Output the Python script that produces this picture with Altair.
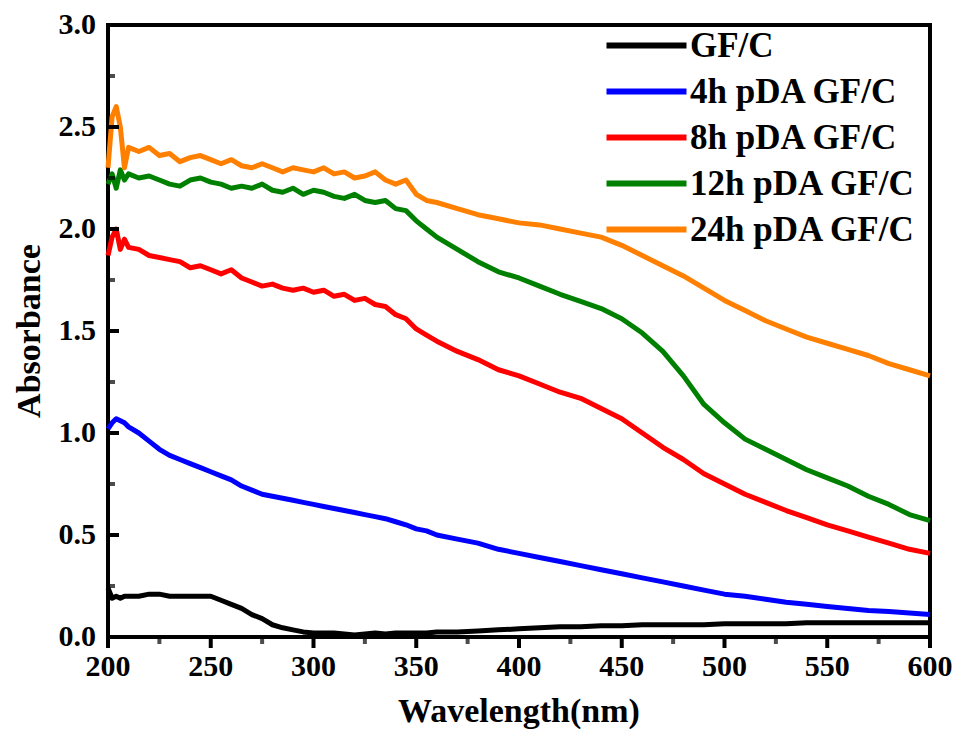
import altair as alt
import pandas as pd

wavelength = [200, 202, 204, 206, 208, 210, 215, 220, 225, 230, 235, 240, 245, 250, 255,
              260, 265, 270, 275, 280, 285, 290, 295, 300, 305, 310, 315, 320, 325, 330,
              335, 340, 345, 350, 355, 360, 370, 380, 390, 400, 410, 420, 430, 440, 450,
              460, 470, 480, 490, 500, 510, 520, 530, 540, 550, 560, 570, 580, 590, 600]

gfc = [0.24, 0.19, 0.20, 0.19, 0.20, 0.20, 0.20, 0.21, 0.21, 0.20, 0.20, 0.20, 0.20, 0.20, 0.18,
       0.16, 0.14, 0.11, 0.09, 0.06, 0.045, 0.035, 0.025, 0.02, 0.02, 0.02, 0.015, 0.01, 0.015, 0.02,
       0.015, 0.02, 0.02, 0.02, 0.02, 0.025, 0.025, 0.03, 0.035, 0.04, 0.045, 0.05, 0.05, 0.055, 0.055,
       0.06, 0.06, 0.06, 0.06, 0.065, 0.065, 0.065, 0.065, 0.07, 0.07, 0.07, 0.07, 0.07, 0.07, 0.07]

pda4 = [1.02, 1.05, 1.07, 1.06, 1.05, 1.03, 1.00, 0.96, 0.92, 0.89, 0.87, 0.85, 0.83, 0.81, 0.79,
        0.77, 0.74, 0.72, 0.70, 0.69, 0.68, 0.67, 0.66, 0.65, 0.64, 0.63, 0.62, 0.61, 0.60, 0.59,
        0.58, 0.565, 0.55, 0.53, 0.52, 0.50, 0.48, 0.46, 0.43, 0.41, 0.39, 0.37, 0.35, 0.33, 0.31,
        0.29, 0.27, 0.25, 0.23, 0.21, 0.20, 0.185, 0.17, 0.16, 0.15, 0.14, 0.13, 0.125, 0.118, 0.11]

pda8 = [1.87, 1.96, 2.00, 1.90, 1.95, 1.91, 1.90, 1.87, 1.86, 1.85, 1.84, 1.81, 1.82, 1.80, 1.78,
        1.80, 1.76, 1.74, 1.72, 1.73, 1.71, 1.70, 1.71, 1.69, 1.70, 1.67, 1.68, 1.65, 1.66, 1.63,
        1.62, 1.58, 1.56, 1.51, 1.48, 1.45, 1.40, 1.36, 1.31, 1.28, 1.24, 1.20, 1.17, 1.12, 1.07,
        1.00, 0.93, 0.87, 0.80, 0.75, 0.70, 0.66, 0.62, 0.585, 0.55, 0.52, 0.49, 0.46, 0.43, 0.41]

pda12 = [2.22, 2.27, 2.20, 2.29, 2.24, 2.27, 2.25, 2.26, 2.24, 2.22, 2.21, 2.24, 2.25, 2.23, 2.22,
         2.20, 2.21, 2.20, 2.22, 2.19, 2.18, 2.20, 2.17, 2.19, 2.18, 2.16, 2.15, 2.17, 2.14, 2.13,
         2.14, 2.10, 2.09, 2.04, 2.00, 1.96, 1.90, 1.84, 1.79, 1.76, 1.72, 1.68, 1.645, 1.61, 1.56,
         1.49, 1.40, 1.28, 1.14, 1.05, 0.97, 0.92, 0.87, 0.82, 0.78, 0.74, 0.69, 0.65, 0.60, 0.57]

pda24 = [2.30, 2.55, 2.60, 2.50, 2.30, 2.40, 2.38, 2.40, 2.36, 2.37, 2.33, 2.35, 2.36, 2.34, 2.32,
         2.34, 2.31, 2.30, 2.32, 2.30, 2.28, 2.30, 2.29, 2.28, 2.30, 2.27, 2.28, 2.25, 2.26, 2.28,
         2.24, 2.22, 2.24, 2.17, 2.14, 2.13, 2.10, 2.07, 2.05, 2.03, 2.02, 2.00, 1.98, 1.96, 1.92,
         1.87, 1.82, 1.77, 1.71, 1.65, 1.60, 1.55, 1.51, 1.47, 1.44, 1.41, 1.38, 1.34, 1.31, 1.28]

series_names = ["GF/C", "4h pDA GF/C", "8h pDA GF/C", "12h pDA GF/C", "24h pDA GF/C"]
series_colors = ["#000000", "#0000FF", "#FF0000", "#008000", "#FF8000"]
series_values = [gfc, pda4, pda8, pda12, pda24]

x_major = [200, 250, 300, 350, 400, 450, 500, 550, 600]
x_minor = [225, 275, 325, 375, 425, 475, 525, 575]
y_major = [0.0, 0.5, 1.0, 1.5, 2.0, 2.5, 3.0]
y_minor = [0.25, 0.75, 1.25, 1.75, 2.25, 2.75]
x_title = ["Wavelength(nm)"]
y_title = ["Absorbance"]

rows = []
for name, vals in zip(series_names, series_values):
    for w, a in zip(wavelength, vals):
        rows.append({"wl": w, "A": a, "series": name})
df = pd.DataFrame(rows)

W, H = 822, 612
FONT = "Liberation Serif"
xscale = alt.Scale(domain=[200, 600], nice=False, zero=False)
yscale = alt.Scale(domain=[0, 3], nice=False)

lines = alt.Chart(df).mark_line(strokeWidth=5, strokeJoin="round").encode(
    x=alt.X("wl:Q", scale=xscale, axis=None),
    y=alt.Y("A:Q", scale=yscale, axis=None),
    color=alt.Color("series:N",
                    scale=alt.Scale(domain=series_names, range=series_colors),
                    sort=series_names,
                    legend=alt.Legend(title=None, orient="none", legendX=521, legendY=3,
                                      symbolType="M-4,0H4", symbolSize=400,
                                      symbolStrokeWidth=6, labelOffset=26,
                                      labelFont=FONT, labelFontWeight="bold",
                                      labelFontSize=35, labelColor="black",
                                      rowPadding=10, padding=0, labelLimit=400)),
)

# tick marks (each layer a different mark/channel combination)
xmaj_df = pd.DataFrame({"xt": x_major})
xmin_df = pd.DataFrame({"xm": x_minor})
ymaj_df = pd.DataFrame({"yt": y_major})
ymin_df = pd.DataFrame({"ym": y_minor})

xmaj_ticks = alt.Chart(xmaj_df).mark_rule(color="black", strokeWidth=4).encode(
    x=alt.X("xt:Q", scale=xscale, axis=None),
    y=alt.value(H), y2=alt.value(H + 11),
)
xmin_ticks = alt.Chart(xmin_df).mark_tick(
    color="black", orient="vertical", thickness=4, size=7
).encode(
    x=alt.X("xm:Q", scale=xscale, axis=None),
    y=alt.value(H + 3.5),
)
ymaj_ticks = alt.Chart(ymaj_df).mark_rule(color="black", strokeWidth=4).encode(
    y=alt.Y("yt:Q", scale=yscale, axis=None),
    x=alt.value(0), x2=alt.value(11),
)
ymin_ticks = alt.Chart(ymin_df).mark_tick(
    color="black", orient="horizontal", thickness=4, size=7
).encode(
    y=alt.Y("ym:Q", scale=yscale, axis=None),
    x=alt.value(3.5),
)

# tick labels and titles as text
xlab_df = pd.DataFrame({"xl": x_major})
ylab_df = pd.DataFrame({"yl": y_major})
text_style = dict(font=FONT, fontWeight="bold", color="black")

x_labels = alt.Chart(xlab_df).mark_text(
    fontSize=30, align="center", baseline="alphabetic", **text_style
).encode(
    x=alt.X("xl:Q", scale=xscale, axis=None),
    y=alt.value(H + 39),
    text=alt.Text("xl:Q", format="d"),
)
y_labels = alt.Chart(ylab_df).mark_text(
    fontSize=30, align="right", baseline="middle", **text_style
).encode(
    y=alt.Y("yl:Q", scale=yscale, axis=None),
    x=alt.value(-12),
    text=alt.Text("yl:Q", format=".1f"),
)
x_title_mark = alt.Chart(pd.DataFrame({"tx": x_title})).mark_text(
    fontSize=34, align="center", baseline="alphabetic", **text_style
).encode(
    text="tx:N", x=alt.value(W / 2), y=alt.value(H + 85),
)
y_title_mark = alt.Chart(pd.DataFrame({"ty": y_title})).mark_text(
    fontSize=34, align="center", baseline="middle", angle=270, **text_style
).encode(
    text="ty:N", x=alt.value(-78), y=alt.value(H / 2),
)

chart = alt.layer(
    lines, xmaj_ticks, xmin_ticks, ymaj_ticks, ymin_ticks,
    x_labels, y_labels, x_title_mark, y_title_mark
).properties(
    width=W, height=H,
    autosize=alt.AutoSizeParams(type="none"),
    padding={"left": 108, "top": 25, "right": 32, "bottom": 100},
    background="white",
).configure_view(stroke="black", strokeWidth=4)

chart.save("out.html", embed_options={"renderer": "svg", "actions": False})
